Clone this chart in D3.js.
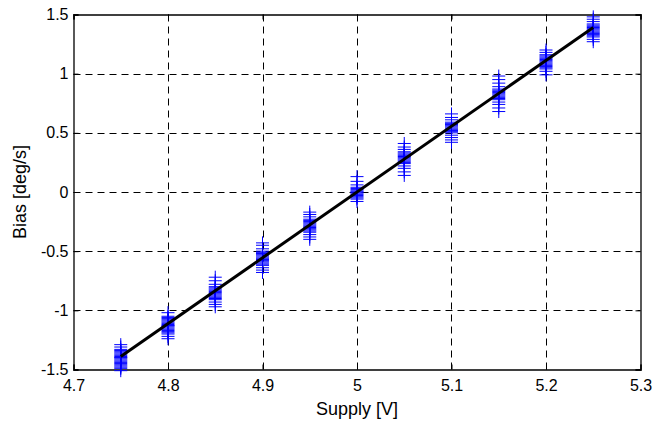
<!DOCTYPE html>
<html>
<head>
<meta charset="utf-8">
<script src="https://cdn.jsdelivr.net/npm/d3@7"></script>
<style>
  html, body { margin: 0; padding: 0; background: #fff; }
  svg { display: block; }
  text { font-family: "Liberation Sans", Arial, sans-serif; fill: #000; }
</style>
</head>
<body>
<svg id="chart" width="667" height="421"></svg>
<script>
// ---- data ----
const supply = [4.75, 4.80, 4.85, 4.90, 4.95, 5.00, 5.05, 5.10, 5.15, 5.20, 5.25];
const bias475 = [-1.29, -1.31, -1.33, -1.34, -1.35, -1.36, -1.37, -1.38, -1.39, -1.40, -1.40, -1.41, -1.42, -1.43, -1.44, -1.45, -1.46, -1.47, -1.48, -1.49, -1.51];
const bias480 = [-1.02, -1.05, -1.06, -1.07, -1.08, -1.09, -1.10, -1.11, -1.12, -1.13, -1.13, -1.14, -1.15, -1.16, -1.17, -1.18, -1.19, -1.20, -1.22, -1.24];
const bias485 = [-0.72, -0.75, -0.78, -0.80, -0.81, -0.82, -0.83, -0.84, -0.85, -0.86, -0.87, -0.88, -0.89, -0.90, -0.91, -0.93, -0.95, -0.97];
const bias490 = [-0.43, -0.45, -0.48, -0.50, -0.51, -0.52, -0.53, -0.54, -0.55, -0.56, -0.57, -0.58, -0.59, -0.60, -0.61, -0.62, -0.64, -0.66, -0.68];
const bias495 = [-0.17, -0.19, -0.21, -0.23, -0.24, -0.25, -0.26, -0.27, -0.28, -0.29, -0.30, -0.31, -0.32, -0.33, -0.34, -0.36, -0.38, -0.40];
const bias500 = [0.13, 0.09, 0.06, 0.04, 0.03, 0.02, 0.01, 0.00, 0.00, -0.01, -0.02, -0.03, -0.04, -0.05, -0.06, -0.08];
const bias505 = [0.41, 0.38, 0.36, 0.34, 0.33, 0.32, 0.31, 0.30, 0.29, 0.28, 0.27, 0.26, 0.25, 0.24, 0.22, 0.20, 0.17, 0.14];
const bias510 = [0.66, 0.63, 0.61, 0.59, 0.58, 0.57, 0.56, 0.55, 0.54, 0.53, 0.52, 0.51, 0.50, 0.48, 0.46, 0.44, 0.42];
const bias515 = [0.98, 0.95, 0.92, 0.89, 0.87, 0.86, 0.85, 0.84, 0.83, 0.82, 0.81, 0.80, 0.79, 0.78, 0.76, 0.74, 0.71, 0.68];
const bias520 = [1.20, 1.18, 1.16, 1.15, 1.14, 1.13, 1.12, 1.11, 1.10, 1.09, 1.08, 1.07, 1.06, 1.05, 1.04, 1.02, 0.99];
const bias525 = [1.48, 1.46, 1.44, 1.42, 1.41, 1.40, 1.39, 1.38, 1.37, 1.36, 1.35, 1.34, 1.33, 1.32, 1.31, 1.29, 1.27];
const biasSets = [bias475, bias480, bias485, bias490, bias495, bias500, bias505, bias510, bias515, bias520, bias525];

const fitX = [4.75, 5.25];
const fitY = [-1.39, 1.39];

const xTicks = [4.7, 4.8, 4.9, 5.0, 5.1, 5.2, 5.3];
const xTickLabels = ["4.7", "4.8", "4.9", "5", "5.1", "5.2", "5.3"];
const yTicks = [-1.5, -1, -0.5, 0, 0.5, 1, 1.5];
const yTickLabels = ["-1.5", "-1", "-0.5", "0", "0.5", "1", "1.5"];
const xLabel = "Supply [V]";
const yLabel = "Bias [deg/s]";

// ---- layout ----
const L = 73.5, R = 640.5, T = 14.5, B = 369.5;
const svg = d3.select("#chart");
const x = d3.scaleLinear().domain([4.7, 5.3]).range([L, R]);
const y = d3.scaleLinear().domain([-1.5, 1.5]).range([B, T]);

// grid
const grid = svg.append("g");
grid.selectAll(".gx").data(xTicks.slice(1, -1)).enter().append("line")
  .attr("x1", d => Math.round(x(d)) + 0.5).attr("x2", d => Math.round(x(d)) + 0.5)
  .attr("y1", T).attr("y2", B)
  .attr("stroke", "#000").attr("stroke-width", 1).attr("stroke-dasharray", "7,5");
grid.selectAll(".gy").data(yTicks.slice(1, -1)).enter().append("line")
  .attr("y1", d => Math.round(y(d)) + 0.5).attr("y2", d => Math.round(y(d)) + 0.5)
  .attr("x1", L).attr("x2", R)
  .attr("stroke", "#000").attr("stroke-width", 1).attr("stroke-dasharray", "7,5");

// axes
const tickFont = 16;
const labelFont = 18;
const axB = svg.append("g").attr("transform", `translate(0,${B})`)
  .call(d3.axisBottom(x).tickValues(xTicks).tickSize(-5).tickPadding(10)
    .tickFormat((d, i) => xTickLabels[i]));
const axT = svg.append("g").attr("transform", `translate(0,${T})`)
  .call(d3.axisTop(x).tickValues(xTicks).tickSize(-5).tickFormat(""));
const axL = svg.append("g").attr("transform", `translate(${L},0)`)
  .call(d3.axisLeft(y).tickValues(yTicks).tickSize(-5).tickPadding(5)
    .tickFormat((d, i) => yTickLabels[i]));
const axR = svg.append("g").attr("transform", `translate(${R},0)`)
  .call(d3.axisRight(y).tickValues(yTicks).tickSize(-5).tickFormat(""));
[axB, axT, axL, axR].forEach(g => {
  g.select(".domain").attr("stroke", "#000").attr("stroke-width", 1.3);
  g.selectAll(".tick line").attr("stroke", "#000");
  g.selectAll(".tick text").attr("font-size", tickFont)
    .attr("font-family", "'Liberation Sans', Arial, sans-serif").attr("fill", "#000");
});
axB.selectAll(".tick text").attr("dy", "0.71em");

// markers
const pts = [];
supply.forEach((s, i) => biasSets[i].forEach(v => pts.push([s, v])));
svg.append("g").selectAll("path").data(pts).enter().append("path")
  .attr("transform", d => `translate(${x(d[0])},${y(d[1])})`)
  .attr("d", "M-6.5,0H6.5M0,-6.5V6.5")
  .attr("stroke", "#0000ff").attr("stroke-width", 1).attr("fill", "none");

// fit line
svg.append("path")
  .datum(fitX.map((d, i) => [d, fitY[i]]))
  .attr("d", d3.line().x(d => x(d[0])).y(d => y(d[1])))
  .attr("stroke", "#000").attr("stroke-width", 3).attr("fill", "none");

// labels
svg.append("text").attr("x", (L + R) / 2).attr("y", 415)
  .attr("text-anchor", "middle").attr("font-size", labelFont).text(xLabel);
svg.append("text").attr("transform", `translate(26,${(T + B) / 2}) rotate(-90)`)
  .attr("text-anchor", "middle").attr("font-size", labelFont).text(yLabel);
</script>
</body>
</html>
